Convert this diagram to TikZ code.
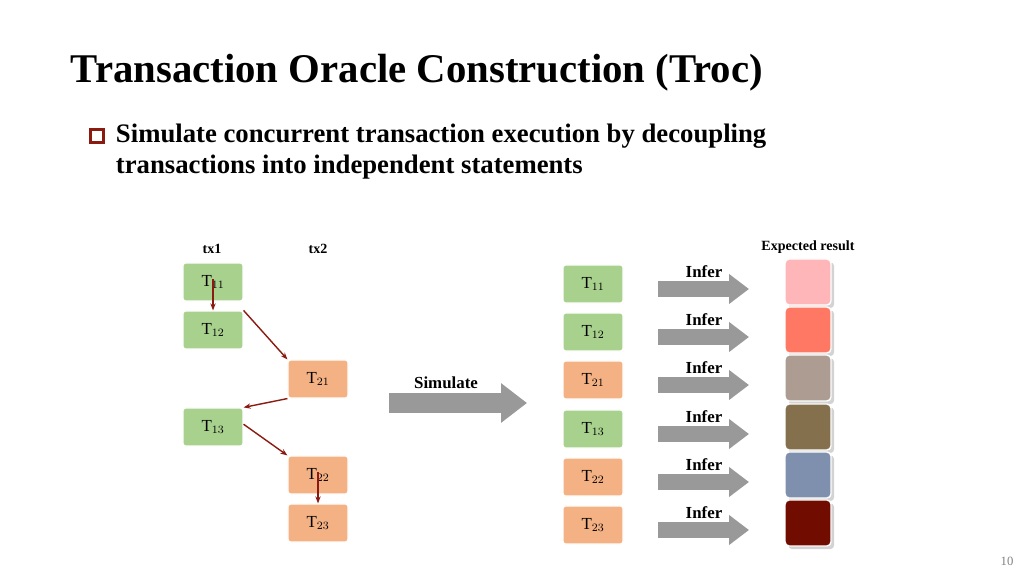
\documentclass[tikz,border=0pt]{standalone}
\usepackage{fontspec}
\setmainfont{Liberation Serif}
\usetikzlibrary{arrows.meta,shadows}
\definecolor{txgreen}{HTML}{A9D18E}
\definecolor{txorange}{HTML}{F4B183}
\definecolor{darkred}{HTML}{8B1A10}
\tikzset{
  stmt/.style={draw=white,line width=0.8pt,rounded corners=2pt,minimum width=1.5cm,minimum height=0.95cm,font=\large},
  g/.style={stmt,fill=txgreen},
  o/.style={stmt,fill=txorange},
  dep/.style={-{Stealth[length=5pt]},draw=darkred,line width=1pt},
  bigarrow/.style={draw=gray!80,line width=0.5cm,-{Triangle[length=0.65cm,width=0.95cm]}},
  smallarrow/.style={draw=gray!80,line width=0.4cm,-{Triangle[length=0.5cm,width=0.72cm]}},
  res/.style={rounded corners=3pt,minimum size=1.15cm,draw=white,line width=1pt,drop shadow={opacity=0.35}},
}
\begin{document}
\begin{tikzpicture}[x=0.025cm,y=-0.025cm]
  \useasboundingbox (0,0) rectangle (1024,576);
  \node[anchor=west,font=\bfseries\fontsize{29}{33}\selectfont] (title) at (66,73) {Transaction Oracle Construction (Troc)};
  \node[draw=darkred,line width=1.6pt,minimum size=0.33cm,inner sep=0pt] (bullet) at (97,136) {};
  \node[anchor=west,font=\bfseries\fontsize{19}{22}\selectfont] (l1) at (111,136) {Simulate concurrent transaction execution by decoupling};
  \node[anchor=west,font=\bfseries\fontsize{19}{22}\selectfont] (l2) at (111,167) {transactions into independent statements};

  \node[font=\bfseries] (tx1) at (212,249) {tx1};
  \node[font=\bfseries] (tx2) at (318,249) {tx2};
  \node[g] (a11) at (213,282) {T$_{11}$};
  \node[g] (a12) at (213,330) {T$_{12}$};
  \node[o] (a21) at (318,379) {T$_{21}$};
  \node[g] (a13) at (213,427) {T$_{13}$};
  \node[o] (a22) at (318,475) {T$_{22}$};
  \node[o] (a23) at (318,523) {T$_{23}$};
  \coordinate (s11) at (213,279);
  \coordinate (s22) at (318,472);
  \draw[dep] (s11) -- (a12.north);
  \draw[dep] (a12.north east) -- (a21.north west);
  \draw[dep] (a21.south west) -- (a13.north east);
  \draw[dep] ([yshift=-0.42cm]a13.north east) -- (a22.north west);
  \draw[dep] (s22) -- (a23.north);

  \coordinate (sim0) at (389,403);
  \coordinate (sim1) at (527,403);
  \draw[bigarrow] (sim0) -- (sim1);
  \node[font=\bfseries\large] (simlbl) at (446,383) {Simulate};

  \node[font=\bfseries] (exp) at (808,247) {Expected result};
  \foreach \n/\t/\y/\s/\c in {1/11/284/g/FFB6B9,2/12/332/g/FF7864,3/21/380/o/AD9C92,4/13/429/g/85704D,5/22/477/o/7F8FAE,6/23/525/o/700C00}
  {
    \node[\s] (b\n) at (593,\y) {T$_{\t}$};
    \coordinate (i\n) at (658,\y+5);
    \coordinate (j\n) at (749,\y+5);
    \draw[smallarrow] (i\n) -- (j\n);
    \node[font=\bfseries\large] (il\n) at (704,\y-12) {Infer};
    \definecolor{rc}{HTML}{\c}
    \node[res,fill=rc] (r\n) at (808,\y-2) {};
  }
  \node[text=gray,font=\small] (page) at (1007,561) {10};
\end{tikzpicture}
\end{document}
